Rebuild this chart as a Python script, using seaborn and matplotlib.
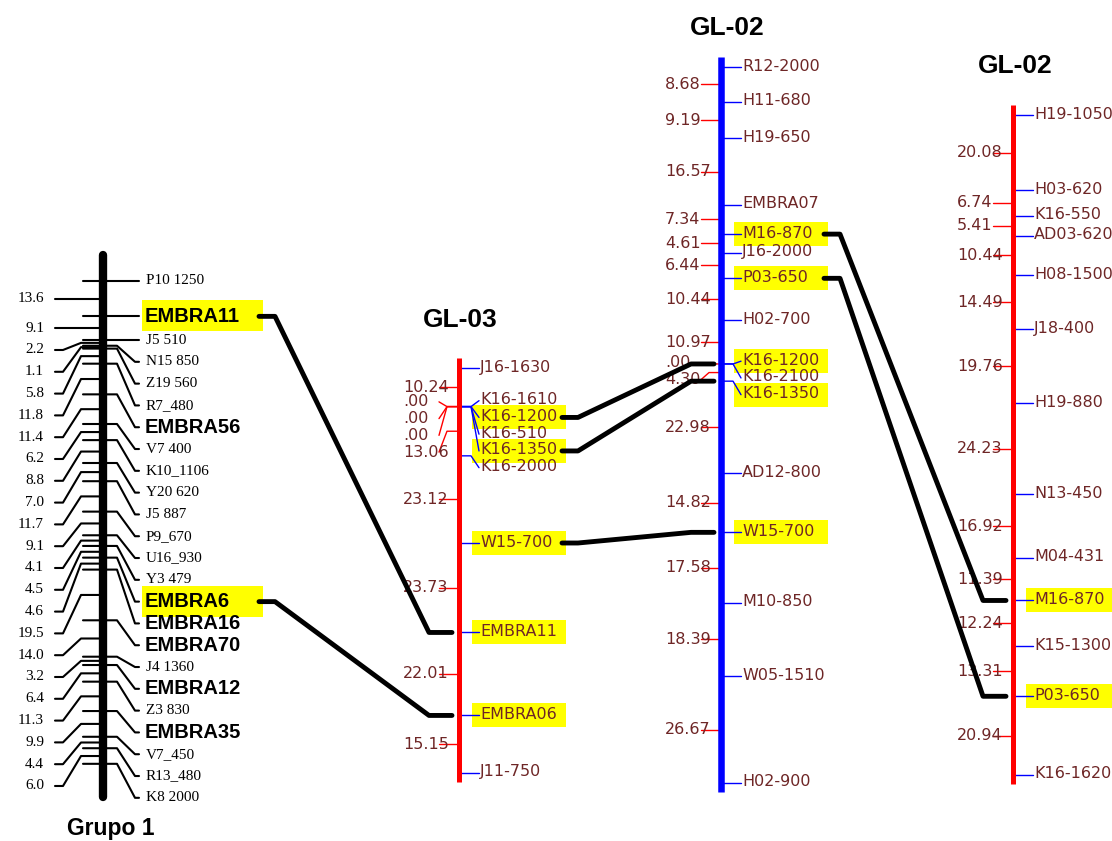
import numpy as np
import matplotlib
matplotlib.use("Agg")
import matplotlib.pyplot as plt
from matplotlib.patches import Rectangle
import seaborn as sns

sns.set_style("white")
plt.rcParams["font.family"] = ["DejaVu Sans"]
plt.rcParams["text.color"] = "black"

# ---------------- data ----------------
# Grupo 1 (marker names top to bottom, distances in cM between neighbours)
g1_names = ["P10 1250", "EMBRA11", "J5 510", "N15 850", "Z19 560", "R7_480", "EMBRA56",
            "V7 400", "K10_1106", "Y20 620", "J5 887", "P9_670", "U16_930", "Y3 479",
            "EMBRA6", "EMBRA16", "EMBRA70", "J4 1360", "EMBRA12", "Z3 830", "EMBRA35",
            "V7_450", "R13_480", "K8 2000"]
g1_cm = [13.6, 9.1, 2.2, 1.1, 5.8, 11.8, 11.4, 6.2, 8.8, 7.0, 11.7, 9.1, 4.1, 4.5,
         4.6, 19.5, 14.0, 3.2, 6.4, 11.3, 9.9, 4.4, 6.0]
g1_hi = ["EMBRA11", "EMBRA6"]

# GL-03
gl03_names = ["J16-1630", "K16-1610", "K16-1200", "K16-510", "K16-1350", "K16-2000",
              "W15-700", "EMBRA11", "EMBRA06", "J11-750"]
gl03_cm = [10.24, 0.0, 0.0, 0.0, 13.06, 23.12, 23.73, 22.01, 15.15]
gl03_hi = ["K16-1200", "K16-1350", "W15-700", "EMBRA11", "EMBRA06"]

# GL-02 (middle)
gl02a_names = ["R12-2000", "H11-680", "H19-650", "EMBRA07", "M16-870", "J16-2000",
               "P03-650", "H02-700", "K16-1200", "K16-2100", "K16-1350", "AD12-800",
               "W15-700", "M10-850", "W05-1510", "H02-900"]
gl02a_cm = [8.68, 9.19, 16.57, 7.34, 4.61, 6.44, 10.44, 10.97, 0.0, 4.30, 22.98,
            14.82, 17.58, 18.39, 26.67]
gl02a_hi = ["M16-870", "P03-650", "K16-1200", "K16-1350", "W15-700"]

# GL-02 (right)
gl02b_names = ["H19-1050", "H03-620", "K16-550", "AD03-620", "H08-1500", "J18-400",
               "H19-880", "N13-450", "M04-431", "M16-870", "K15-1300", "P03-650", "K16-1620"]
gl02b_cm = [20.08, 6.74, 5.41, 10.44, 14.49, 19.76, 24.23, 16.92, 11.39, 12.24, 13.31, 20.94]
gl02b_hi = ["M16-870", "P03-650"]

# shared markers linked between maps
links = [("g1", "EMBRA11", "gl03", "EMBRA11"),
         ("g1", "EMBRA6", "gl03", "EMBRA06"),
         ("gl03", "K16-1200", "gl02a", "K16-1200"),
         ("gl03", "K16-1350", "gl02a", "K16-1350"),
         ("gl03", "W15-700", "gl02a", "W15-700"),
         ("gl02a", "M16-870", "gl02b", "M16-870"),
         ("gl02a", "P03-650", "gl02b", "P03-650")]

# ---------------- figure ----------------
W, H = 1112, 841
fig = plt.figure(figsize=(W / 100, H / 100), dpi=100)
ax = fig.add_axes([0, 0, 1, 1])
ax.set_xlim(0, W)
ax.set_ylim(H, 0)
ax.axis("off")

MAROON = "#6e2626"
YELLOW = "#ffff00"
maps = {}


def spread(pos, gap, pull):
    # push labels down so they don't overlap, then pull each crowded group back up a bit
    pos = np.asarray(pos, float)
    lab = pos.copy()
    for i in range(1, len(lab)):
        lab[i] = max(pos[i], lab[i - 1] + gap)
    i = 0
    while i < len(lab):
        j = i
        while j + 1 < len(lab) and lab[j + 1] - lab[j] <= gap + 1e-6:
            j += 1
        if j > i:
            lab[i:j + 1] -= pull * (lab[i:j + 1].mean() - pos[i:j + 1].mean())
        i = j + 1
    return lab


def fmt_gl(d):
    s = f"{d:.2f}"
    return s[1:] if s.startswith("0") else s


def draw_gl(key, names, cm, hi, title, x0, y0, scale, color, bar_lw, title_xy):
    pos = y0 + scale * np.concatenate([[0], np.cumsum(cm)])
    lab = spread(pos, 16.75, 0.25)
    mids = (pos[:-1] + pos[1:]) / 2
    dlab = spread(mids, 16.75, 0.25)
    ax.plot([x0, x0], [pos[0] - 10, pos[-1] + 9], color=color, lw=bar_lw,
            solid_capstyle="butt", zorder=4)
    for p, l, name in zip(pos, lab, names):
        ax.plot([x0, x0 + 12, x0 + 20], [p, p, l], color="#0000ff", lw=1.0, zorder=3)
        if name in hi:
            ax.add_patch(Rectangle((x0 + 13, l - 12), 94, 24, facecolor=YELLOW,
                                   edgecolor="none", zorder=1))
        ax.text(x0 + 21, l - 1, name, color=MAROON, fontsize=11.5, va="center",
                ha="left", zorder=5)
    for m, l, d in zip(mids, dlab, cm):
        ax.plot([x0, x0 - 12, x0 - 20], [m, m, l], color="#ff0000", lw=1.0, zorder=3)
        ax.text(x0 - 56, l, fmt_gl(d), color=MAROON, fontsize=11.5, va="center",
                ha="left", zorder=5)
    ax.text(title_xy[0], title_xy[1], title, fontsize=19, fontweight="bold",
            family="Liberation Sans", color="black", ha="center", va="center")
    maps[key] = dict(x=x0, pos=dict(zip(names, pos)), lab=dict(zip(names, lab)),
                     box_right=x0 + 107)


def draw_g1(key, names, cm, hi, title, x0, y0, scale):
    pos = y0 + scale * np.concatenate([[0], np.cumsum(cm)])
    lab = spread(pos, 21.8, 0.0)
    mids = (pos[:-1] + pos[1:]) / 2
    dlab = spread(mids, 21.8, 0.0)
    ax.plot([x0, x0], [pos[0] - 26, pos[-1] + 33], color="black", lw=6,
            solid_capstyle="round", zorder=4)
    for p, l, name in zip(pos, lab, names):
        ax.plot([x0 - 20, x0 + 14, x0 + 32, x0 + 36], [p, p, l, l], color="black",
                lw=1.5, zorder=3)
        if name in hi:
            ax.add_patch(Rectangle((x0 + 39, l - 16), 121, 31, facecolor=YELLOW,
                                   edgecolor="none", zorder=1))
        if name.startswith("EMBRA"):
            ax.text(x0 + 42, l, name, fontsize=14.5, fontweight="bold",
                    family="Liberation Sans", color="black", va="center",
                    ha="left", zorder=5)
        else:
            ax.text(x0 + 43, l, name, fontsize=11, family="Liberation Serif",
                    color="black", va="center", ha="left", zorder=5)
    for m, l, d in zip(mids, dlab, cm):
        ax.plot([x0, x0 - 22, x0 - 40, x0 - 48], [m, m, l, l], color="black",
                lw=1.5, zorder=3)
        ax.text(x0 - 59, l, f"{d:.1f}", fontsize=11, family="Liberation Serif",
                color="black", va="center", ha="right", zorder=5)
    ax.text(x0 + 8, pos[-1] + 65, title, fontsize=16.5, fontweight="bold",
            family="Liberation Sans", color="black", ha="center", va="center")
    maps[key] = dict(x=x0, pos=dict(zip(names, pos)), lab=dict(zip(names, lab)),
                     box_right=x0 + 160)


draw_g1("g1", g1_names, g1_cm, g1_hi, "Grupo 1", 103, 281, 2.6)
draw_gl("gl03", gl03_names, gl03_cm, gl03_hi, "GL-03", 459, 368, 3.77, "#ff0000", 3.6, (460, 320))
draw_gl("gl02a", gl02a_names, gl02a_cm, gl02a_hi, "GL-02", 721, 67, 4.0, "#0000ff", 4.7, (727, 28))
draw_gl("gl02b", gl02b_names, gl02b_cm, gl02b_hi, "GL-02", 1013, 115, 3.75, "#ff0000", 3.6, (1015, 66))

# links between shared markers
for a, na, b, nb in links:
    A, B = maps[a], maps[b]
    y1 = A["lab"][na]
    y2 = B["pos"][nb]
    xs = [A["box_right"] - 4, A["box_right"] + 12, B["x"] - 30, B["x"] - 7]
    ax.plot(xs, [y1, y1, y2, y2], color="black", lw=3.5, solid_joinstyle="round",
            solid_capstyle="round", zorder=6)

plt.savefig("out.png", dpi=100)
